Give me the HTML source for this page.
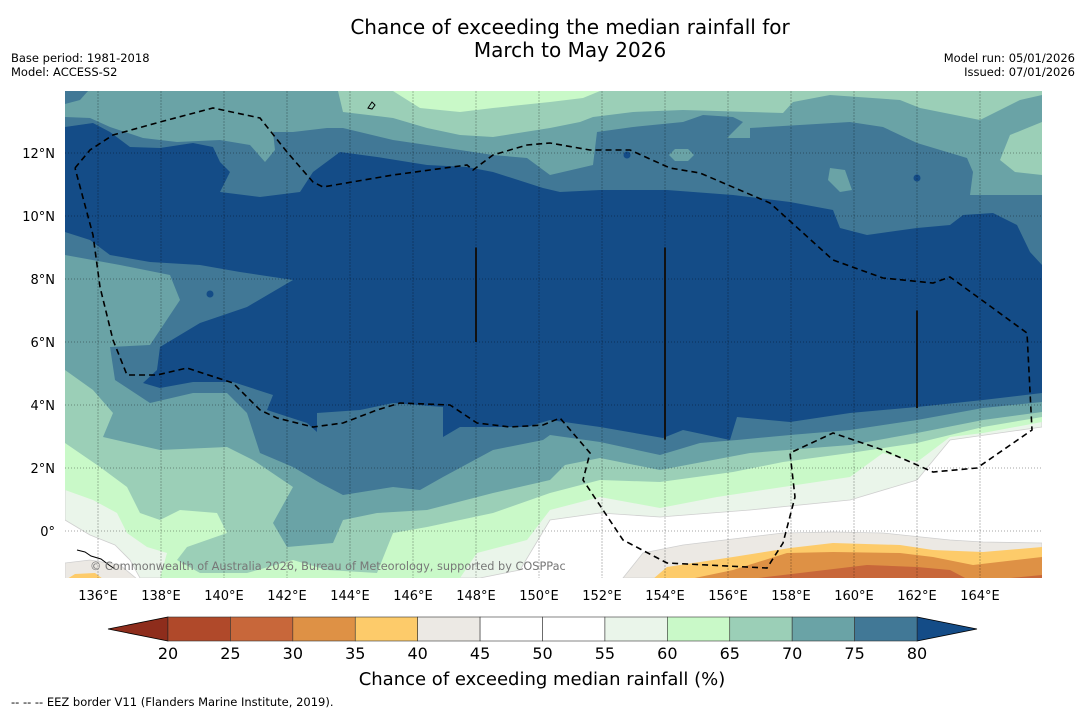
<!DOCTYPE html>
<html><head><meta charset="utf-8"><style>
html,body{margin:0;padding:0;background:#fff;}
svg{display:block;font-family:"DejaVu Sans","Liberation Sans",sans-serif;}
</style></head><body>
<svg id="chart" width="1085" height="713" viewBox="0 0 1085 713" xmlns="http://www.w3.org/2000/svg">
<text x="570" y="34" font-size="20" text-anchor="middle" fill="#000">Chance of exceeding the median rainfall for</text>
<text x="570" y="57" font-size="20" text-anchor="middle" fill="#000">March to May 2026</text>
<text x="11" y="62" font-size="11.5">Base period: 1981-2018</text>
<text x="11" y="76" font-size="11.5">Model: ACCESS-S2</text>
<text x="1075" y="62" font-size="11.5" text-anchor="end">Model run: 05/01/2026</text>
<text x="1075" y="76" font-size="11.5" text-anchor="end">Issued: 07/01/2026</text>
<defs><clipPath id="mapclip"><rect x="65" y="91" width="977" height="487"/></clipPath></defs>
<g id="map" clip-path="url(#mapclip)"></g>
<g id="axes"></g>
<g id="cbar"></g>
<text x="542" y="685" font-size="18" text-anchor="middle">Chance of exceeding median rainfall (%)</text>
<text x="11" y="706" font-size="11.5">--  --  -- EEZ border V11 (Flanders Marine Institute, 2019).</text>
</svg>
<script>
// axis data
const lonTicks = [136,138,140,142,144,146,148,150,152,154,156,158,160,162,164];
const latTicks = [0,2,4,6,8,10,12];
const cbarLevels = [20,25,30,35,40,45,50,55,60,65,70,75,80];
const cbarColors = ["#b0492a","#c8673a","#de9145","#fdcb6a","#ece9e4","#ffffff","#ffffff","#eaf5ea","#c9f9c8","#9bcfb7","#6aa3a6","#417896"];
const underColor = "#8e2d1c";
const overColor = "#144c87";
const band55 = [[65,91],[1042,91],[1042,427],[950,440],[917,480],[850,500],[750,510],[660,517],[600,513],[550,520],[520,570],[480,578],[140,578],[130,560],[115,545],[90,535],[65,520]];
const band60 = [[65,91],[1042,91],[1042,422],[983,433],[950,437],[917,462],[883,453],[850,477],[783,487],[717,497],[660,508],[600,497],[550,510],[527,540],[477,553],[460,578],[160,578],[167,553],[147,547],[127,533],[117,513],[93,500],[65,490]];
const band65 = [[65,91],[1042,91],[1042,417],[983,427],[917,443],[850,453],[783,462],[733,472],[660,482],[600,480],[550,493],[493,513],[427,527],[393,533],[377,573],[327,570],[293,560],[247,573],[200,573],[177,560],[187,547],[227,533],[217,513],[180,510],[160,520],[140,513],[127,487],[100,467],[65,443]];
const patch60 = [[393,91],[420,108],[460,112],[493,108],[550,102],[583,98],[600,91]];
const band70 = [[65,91],[338,91],[343,112],[393,118],[427,128],[460,135],[493,137],[550,128],[580,122],[593,117],[633,112],[683,110],[783,113],[793,102],[830,95],[900,100],[920,108],[980,120],[1020,100],[1042,95],[1042,412],[983,420],[917,433],[850,445],[750,453],[660,470],[600,458],[565,465],[550,480],[493,493],[427,510],[377,513],[343,520],[333,543],[287,547],[273,523],[293,487],[253,460],[227,447],[160,450],[103,437],[113,413],[93,390],[65,370]];
const patch65 = [[1042,122],[1010,135],[1000,160],[1015,172],[1042,175]];
const band75 = [[65,117],[90,118],[110,127],[143,138],[177,142],[220,140],[250,145],[265,162],[275,150],[273,132],[293,132],[327,128],[343,128],[393,140],[427,145],[460,150],[493,155],[527,158],[550,175],[593,165],[597,132],[633,127],[683,122],[703,115],[733,117],[743,122],[727,138],[750,138],[750,128],[850,122],[883,127],[917,143],[967,158],[973,172],[970,195],[1042,195],[1042,402],[983,408],[917,420],[850,430],[790,435],[737,440],[700,443],[660,455],[600,442],[550,435],[543,440],[493,450],[443,477],[420,490],[393,487],[343,495],[320,483],[293,467],[260,453],[247,413],[227,393],[193,393],[150,403],[115,380],[110,347],[150,345],[180,300],[170,275],[120,265],[65,255]];
const band75b = [[65,91],[88,91],[80,100],[65,104]];
const hole70a = [[669,155],[675,149],[688,149],[694,155],[688,161],[675,161]];
const hole70b = [[830,168],[845,170],[852,190],[840,192],[828,180]];
const band80 = [[65,127],[93,123],[110,132],[130,147],[160,148],[193,143],[213,147],[220,162],[230,172],[220,192],[260,197],[300,192],[313,172],[340,152],[377,157],[427,165],[467,167],[493,172],[543,188],[560,192],[600,190],[667,190],[733,195],[790,202],[833,210],[840,228],[867,235],[917,228],[950,225],[963,215],[993,213],[1017,225],[1030,252],[1042,265],[1042,393],[983,400],[917,407],[850,413],[790,422],[737,417],[730,440],[683,430],[663,438],[600,427],[550,420],[527,427],[460,427],[443,437],[443,407],[393,403],[360,410],[317,413],[317,432],[307,423],[267,410],[273,395],[233,382],[193,382],[160,388],[143,383],[157,370],[160,347],[200,323],[247,307],[293,280],[240,272],[200,265],[150,262],[110,255],[90,240],[65,232]];
const dry45 = [[623,578],[643,553],[683,545],[783,533],[833,532],[883,533],[950,540],[983,542],[1042,543],[1042,578]];
const dry40 = [[653,579],[667,567],[733,557],[790,548],[833,543],[900,545],[933,550],[983,552],[1042,547],[1042,579]];
const dry35 = [[690,579],[733,570],[787,553],[833,552],[900,553],[933,557],[973,565],[1042,557],[1042,579]];
const dry30a = [[750,579],[800,573],[867,565],[917,567],[950,570],[967,579]];
const dry30b = [[1000,579],[1042,575],[1042,579]];
const dry45sw = [[65,563],[90,560],[120,565],[137,579],[65,579]];
const dry40sw = [[67,579],[75,574],[95,573],[103,579]];
const eezLine = [[75,168],[90,150],[113,135],[160,122],[213,108],[260,118],[287,152],[313,182],[323,187],[393,175],[467,165],[473,170],[493,155],[527,145],[550,143],[590,150],[630,150],[670,168],[700,173],[770,203],[833,260],[883,278],[933,283],[950,277],[957,282],[1027,333],[1032,430],[977,468],[933,472],[883,450],[833,433],[790,453],[795,497],[783,543],[767,568],[667,563],[623,540],[583,480],[590,453],[560,418],[543,425],[510,427],[477,423],[450,405],[400,403],[377,410],[343,423],[313,427],[277,418],[260,410],[233,383],[187,368],[157,375],[127,375],[113,340],[100,287],[93,235],[75,168]];
const streakLons = [148,154,162];
const streakTop = [9.0,9.0,7.0];
const streakBot = [6.0,2.9,3.9];

const NS="http://www.w3.org/2000/svg";
const X0=65,X1=1042,Y0=91,Y1=578;
function xLon(l){return 98+(l-136)*31.5;}
function yLat(l){return 531-l*31.5;}
function mk(tag,attrs,parent){const e=document.createElementNS(NS,tag);for(const k in attrs)e.setAttribute(k,attrs[k]);parent.appendChild(e);return e;}
function pts(a){return a.map(p=>p[0]+","+p[1]).join(" ");}
const map=document.getElementById('map');
let bg=mk('rect',{x:X0,y:Y0,width:X1-X0,height:Y1-Y0,fill:'#fff'},map);


const layers=[[band55,'#eaf5ea','band-55-60'],[band60,'#c9f9c8','band-60-65'],[band65,'#9bcfb7','band-65-70'],[patch60,'#c9f9c8','patch-60-65-north'],[band70,'#6aa3a6','band-70-75'],[patch65,'#9bcfb7','patch-65-70-east'],[band75,'#417896','band-75-80'],[band75b,'#417896','patch-75-80-nw'],[hole70a,'#6aa3a6','patch-70-75-a'],[hole70b,'#6aa3a6','patch-70-75-b'],[band80,'#144c87','band-above-80'],[dry45,'#ece9e4','band-40-45'],[dry40,'#fdcb6a','band-35-40'],[dry35,'#de9145','band-30-35'],[dry30a,'#c8673a','band-25-30-a'],[dry30b,'#c8673a','band-25-30-b'],[dry45sw,'#ece9e4','band-40-45-sw'],[dry40sw,'#fdcb6a','band-35-40-sw']];
layers.forEach(L=>{
  const p=mk('polygon',{points:pts(L[0]),fill:L[1],stroke:(L[1]=='#eaf5ea'||L[1]=='#ece9e4')?'#cfcfcf':'none','stroke-width':0.8},map);
  
  
});
[[627,155],[917,178],[210,294]].forEach(c=>{
  const s=mk('circle',{cx:c[0],cy:c[1],r:3.5,fill:'#144c87'},map);
  
  
});
// grid
lonTicks.forEach(l=>{
  const g=mk('line',{x1:xLon(l),x2:xLon(l),y1:Y0,y2:Y1,stroke:'rgba(0,0,0,0.25)','stroke-width':1,'stroke-dasharray':'2,1'},map);
  
  
});
latTicks.forEach(l=>{
  const g=mk('line',{x1:X0,x2:X1,y1:yLat(l),y2:yLat(l),stroke:'rgba(0,0,0,0.35)','stroke-width':1,'stroke-dasharray':'1,2'},map);
  
  
});
streakLons.forEach((l,i)=>{
  const s=mk('line',{x1:xLon(l),x2:xLon(l),y1:yLat(streakTop[i]),y2:yLat(streakBot[i]),stroke:'#111','stroke-width':2},map);
  
  
});
// islands
const isl=mk('path',{d:'M77,550 l8,2 l6,4 l10,3 l8,6 l6,4 M368,108 l4,-6 l3,3 l-3,4 z',fill:'none',stroke:'#000','stroke-width':1},map);


const eez=mk('polyline',{points:pts(eezLine),fill:'none',stroke:'#000','stroke-width':1.6,'stroke-dasharray':'6,4'},map);


const cr=mk('text',{x:90,y:570,'font-size':11.3,fill:'#777'},map);
cr.textContent='© Commonwealth of Australia 2026, Bureau of Meteorology, supported by COSPPac';


// axes labels
const ax=document.getElementById('axes');
lonTicks.forEach(l=>{
  const t=mk('text',{x:xLon(l),y:600,'font-size':13,'text-anchor':'middle'},ax);
  t.textContent=l+'°E';
  
  
});
latTicks.forEach(l=>{
  const t=mk('text',{x:55,y:yLat(l)+5,'font-size':13,'text-anchor':'end'},ax);
  t.textContent=l===0?'0°':l+'°N';
  
  
});
// colorbar
const cb=document.getElementById('cbar');
const cbX0=168,cbX1=917,cbY=617,cbH=24;
function xc(v){return cbX0+(v-cbarLevels[0])/(cbarLevels[cbarLevels.length-1]-cbarLevels[0])*(cbX1-cbX0);}
const lt=mk('polygon',{points:`${cbX0},${cbY} ${cbX0},${cbY+cbH} ${cbX0-60},${cbY+cbH/2}`,fill:underColor,stroke:'#000','stroke-width':0.8},cb);


const rt=mk('polygon',{points:`${cbX1},${cbY} ${cbX1},${cbY+cbH} ${cbX1+60},${cbY+cbH/2}`,fill:overColor,stroke:'#000','stroke-width':0.8},cb);


cbarColors.forEach((c,i)=>{
  const r=mk('rect',{x:xc(cbarLevels[i]),y:cbY,width:xc(cbarLevels[i+1])-xc(cbarLevels[i]),height:cbH,fill:c,stroke:'#333','stroke-width':0.6},cb);
  
  
});
cbarLevels.forEach(v=>{
  const t=mk('text',{x:xc(v),y:659,'font-size':16,'text-anchor':'middle'},cb);
  t.textContent=v;
  
  
});
</script>
</body></html>
